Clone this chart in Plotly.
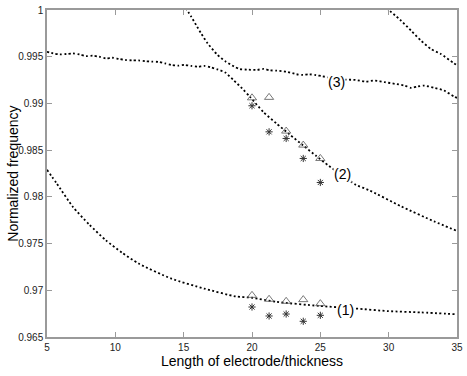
import plotly.graph_objects as go

# Curve (1)
x1 = [5.0, 5.70, 6.9, 8.1, 9.3, 10.5, 11.7, 14.1, 16.5, 18.8, 20.0, 21.8, 24.9, 27.57, 29.97, 32.38, 35.0]
y1 = [0.98290, 0.98146, 0.97892, 0.97702, 0.97536, 0.97401, 0.97286, 0.97125, 0.97018, 0.96935,
      0.96920, 0.96876, 0.96833, 0.96805, 0.96777, 0.96763, 0.96743]

# Curve A: wavy (3) on the left, turning into (2)
xA = [5.0, 5.45, 5.94, 6.42, 6.90, 7.38, 7.86, 8.34, 8.82, 9.30, 9.78, 10.26, 10.75, 11.22, 11.70,
      12.19, 12.66, 13.15, 13.63, 14.11, 14.59, 15.07, 15.55, 16.03, 16.51, 16.99, 17.47, 18.05,
      18.68, 19.28, 19.87, 20.84, 21.80, 22.76, 23.72, 24.68, 25.64, 27.08, 27.6, 28.53, 30.93,
      33.33, 35.0]
yA = [0.99553, 0.99535, 0.99524, 0.99529, 0.99535, 0.99524, 0.99507, 0.99511, 0.99500, 0.99482,
      0.99489, 0.99476, 0.99465, 0.99461, 0.99460, 0.99452, 0.99447, 0.99445, 0.99429, 0.99412,
      0.99404, 0.99412, 0.99401, 0.99394, 0.99401, 0.99386, 0.99365, 0.99330, 0.99245, 0.99160,
      0.99067, 0.98907, 0.98784, 0.98667, 0.98553, 0.98440, 0.98330, 0.98181, 0.98128, 0.98074,
      0.97897, 0.97737, 0.97635]

# Curve B: steep from the top, turning into (3)
xB = [15.15, 15.55, 15.91, 16.27, 16.75, 17.47, 18.07, 18.68, 19.1, 19.64, 20.36, 20.84, 21.32,
      21.80, 22.52, 23.24, 23.72, 24.20, 24.68, 25.17, 25.53, 26.84, 27.57, 28.29, 29.01, 29.73,
      30.45, 31.17, 31.65, 32.13, 32.61, 33.33, 34.05, 34.78, 35.0]
yB = [1.00020, 0.99929, 0.99840, 0.99751, 0.99644, 0.99520, 0.99449, 0.99396, 0.99368, 0.99362,
      0.99359, 0.99369, 0.99354, 0.99351, 0.99340, 0.99313, 0.99305, 0.99312, 0.99303, 0.99290,
      0.99280, 0.99255, 0.99252, 0.99234, 0.99245, 0.99227, 0.99210, 0.99191, 0.99167, 0.99181,
      0.99191, 0.99167, 0.99138, 0.99074, 0.99060]

# Curve C: upper right
xC = [29.85, 30.93, 31.65, 32.38, 33.1, 33.82, 34.78, 34.95]
yC = [1.00020, 0.99883, 0.99777, 0.99670, 0.99582, 0.99529, 0.99429, 0.99415]

# Markers
xm = [20, 21.25, 22.5, 23.75, 25]
tri1 = [0.96946, 0.96904, 0.96882, 0.96900, 0.96857]
ast1 = [0.96821, 0.96725, 0.96746, 0.96668, 0.96732]
tri2 = [0.99060, 0.99065, 0.98704, 0.98554, 0.98411]
ast2 = [0.98975, 0.98696, 0.98625, 0.98411, 0.98154]

xticks = [5, 10, 15, 20, 25, 30, 35]
yticks = [0.965, 0.97, 0.975, 0.98, 0.985, 0.99, 0.995, 1.0]
yticktext = ["0.965", "0.97", "0.975", "0.98", "0.985", "0.99", "0.995", "1"]

labels = ["(1)", "(2)", "(3)"]
label_x = [26.85, 26.6, 26.2]
label_y = [0.9679, 0.9824, 0.99234]

x_title = "Length of electrode/thickness"
y_title = "Normalized frequency"

FONT = "Liberation Sans, Arial, sans-serif"
dotline = dict(color="black", width=1.8, dash="2px,2.4px", shape="spline", smoothing=0.6)

fig = go.Figure()
for xs, ys in [(x1, y1), (xA, yA), (xB, yB), (xC, yC)]:
    fig.add_trace(go.Scatter(x=xs, y=ys, mode="lines", line=dotline, hoverinfo="skip"))

for ys in (tri1, tri2):
    fig.add_trace(go.Scatter(x=xm, y=ys, mode="markers",
                             marker=dict(symbol="triangle-up-open", size=8, color="#555555",
                                         line=dict(width=0.8, color="#555555"))))
for ys in (ast1, ast2):
    fig.add_trace(go.Scatter(x=xm, y=ys, mode="markers",
                             marker=dict(symbol="asterisk-open", size=6, color="#333333",
                                         line=dict(width=1, color="#333333"))))

for t, lx, ly in zip(labels, label_x, label_y):
    fig.add_annotation(x=lx, y=ly, text=t, showarrow=False, bgcolor="white", borderpad=0,
                       font=dict(family=FONT, size=14, color="black"))

fig.add_annotation(x=0.5, y=-0.073, xref="paper", yref="paper", text=x_title, showarrow=False,
                   xanchor="center", yanchor="middle",
                   font=dict(family=FONT, size=14, color="black"))
fig.add_annotation(x=-0.085, y=0.5, xref="paper", yref="paper", text=y_title, showarrow=False,
                   textangle=-90, xanchor="center", yanchor="middle",
                   font=dict(family=FONT, size=14, color="black"))

axis_common = dict(showline=True, linecolor="#9a9a9a", linewidth=1.5, mirror="ticks",
                   ticks="inside", ticklen=5, tickcolor="#9a9a9a", tickwidth=1,
                   showgrid=False, zeroline=False, ticklabeloverflow="allow",
                   tickfont=dict(family=FONT, size=10, color="#222222"))

fig.update_layout(
    width=467, height=376, autosize=False,
    margin=dict(l=47, r=4, t=8, b=39),
    paper_bgcolor="white", plot_bgcolor="white",
    showlegend=False,
    xaxis=dict(range=[5, 35], tickvals=xticks, ticktext=[str(v) for v in xticks], **axis_common),
    yaxis=dict(range=[0.965, 1.0], tickvals=yticks, ticktext=yticktext, **axis_common),
)

fig.write_html("out.html", config={"displayModeBar": False},
               post_script="document.body.style.margin='0';document.body.style.padding='0';")
